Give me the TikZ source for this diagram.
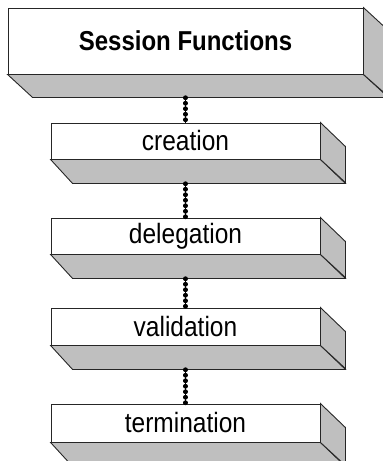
\documentclass[tikz,border=0pt]{standalone}
\usepackage{graphicx}
\usepackage{fontspec}
\setmainfont{Liberation Sans}
% slightly tall lettering
\newcommand\tallword[1]{\scalebox{1}[1.14]{#1}}
\begin{document}
\begin{tikzpicture}[x=1pt,y=-1pt,
  front/.style={draw=black!85, fill=white, line width=0.9pt, inner sep=0pt},
  face/.style={draw=black!85, fill=black!25, line width=0.9pt, line join=miter},
  slabtext/.style={font=\fontsize{24.5}{28}\selectfont},
  headtext/.style={font=\bfseries\fontsize{24}{28}\selectfont},
  chain/.style={line width=4.2pt, line cap=round, dash pattern=on 0.6pt off 4.9pt,
    preaction={draw, solid, line width=1.3pt, line cap=butt}}
]
\useasboundingbox (0,0) rectangle (383,461);
\clip (0,0) rectangle (383,461);

% heading slab
\node[front, headtext, minimum width=355pt, minimum height=66pt] (sf) at (185.5,41) {\tallword{Session Functions}};
\draw[face] (sf.south west) -- (sf.south east) -- ++(25,23) -- ([shift={(25,23)}]sf.south west) -- cycle;
\draw[face] (sf.north east) -- ++(25,23) -- ++(0,66) -- (sf.south east) -- cycle;
\coordinate (sf-base) at ([shift={(0,23)}]sf.south);

% function slabs
\foreach \name/\cy/\h in {creation/141/36, delegation/236/36, validation/326.5/37, termination/423/38}{
  \node[front, slabtext, minimum width=269pt, minimum height=\h pt] (\name) at (185.5,\cy) {\tallword{\name}};
  \draw[face] (\name.south west) -- (\name.south east) -- ++(25,24) -- ([shift={(22,24)}]\name.south west) -- cycle;
  \draw[face] (\name.north east) -- ++(25,24) -- ++(0,\h) -- (\name.south east) -- cycle;
  \coordinate (\name-base) at ([shift={(0,24)}]\name.south);
}

% dotted links between slabs
\draw[chain] (sf-base) -- (creation.north);
\draw[chain] (creation-base) -- (delegation.north);
\draw[chain] (delegation-base) -- (validation.north);
\draw[chain] (validation-base) -- (termination.north);
\end{tikzpicture}
\end{document}
